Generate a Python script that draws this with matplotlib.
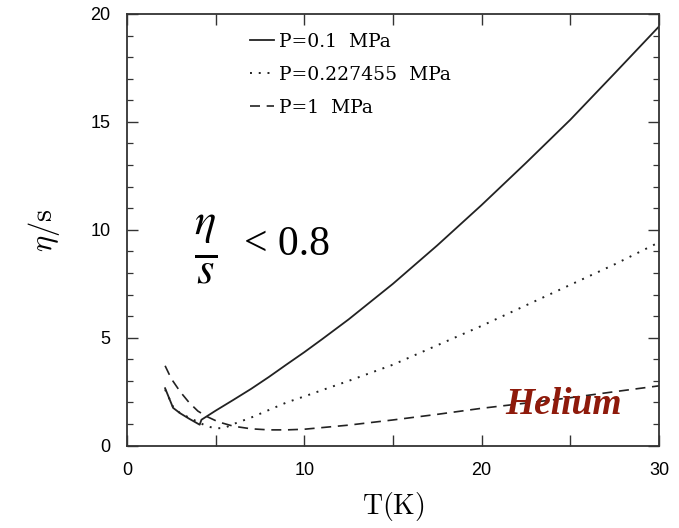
import matplotlib
matplotlib.use("Agg")
import matplotlib.pyplot as plt
from matplotlib.ticker import MultipleLocator, FuncFormatter

plt.rcParams['mathtext.fontset'] = 'cm'

# ---------------- data ----------------
T_01 = [2.15, 2.6, 3.0, 3.5, 4.1, 4.2, 5.0, 6.0, 7.0, 8.0, 9.0, 10.0, 11.0, 12.5,
        15.0, 17.5, 20.0, 22.5, 25.0, 27.5, 30.0]
eta_01 = [2.66, 1.75, 1.5, 1.25, 0.97, 1.2, 1.62, 2.12, 2.63, 3.18, 3.76, 4.33, 4.93, 5.85,
          7.5, 9.28, 11.15, 13.1, 15.1, 17.25, 19.42]

T_0227 = [2.15, 2.6, 3.0, 3.5, 4.0, 4.5, 5.0, 5.5, 6.0, 7.0, 8.0, 9.0, 10.0, 11.0, 12.5,
          15.0, 17.5, 20.0, 22.5, 25.0, 27.5, 30.0]
eta_0227 = [2.6, 1.8, 1.5, 1.3, 1.1, 0.9, 0.8, 0.82, 1.0, 1.3, 1.65, 2.0, 2.28, 2.57, 3.0,
            3.75, 4.65, 5.55, 6.5, 7.45, 8.4, 9.42]

T_1 = [2.15, 2.5, 3.0, 3.5, 4.0, 4.5, 5.15, 6.0, 7.0, 8.0, 9.0, 10.0, 12.5, 15.0,
       17.5, 20.0, 22.5, 25.0, 27.5, 30.0]
eta_1 = [3.7, 3.1, 2.5, 2.0, 1.6, 1.35, 1.1, 0.9, 0.78, 0.73, 0.73, 0.76, 0.95, 1.19,
         1.45, 1.73, 1.97, 2.22, 2.5, 2.77]

labels = ['P=0.1  MPa', 'P=0.227455  MPa', 'P=1  MPa']

# ---------------- figure ----------------
fig = plt.figure(figsize=(6.79, 5.28), dpi=100)
ax = fig.add_axes([0.187, 0.156, 0.7835, 0.8175])

ax.plot(T_01, eta_01, '-', color='#222222', lw=1.3, label=labels[0])
ax.plot(T_0227, eta_0227, color='#222222', lw=1.4, linestyle=(0, (1, 3.5)), label=labels[1])
ax.plot(T_1, eta_1, color='#222222', lw=1.2, linestyle=(0, (6, 4)), label=labels[2])

ax.set_xlim(0, 30)
ax.set_ylim(0, 20)

ax.xaxis.set_major_locator(MultipleLocator(5))
ax.xaxis.set_major_formatter(FuncFormatter(lambda v, p: '%d' % v if int(round(v)) % 10 == 0 else ''))
ax.yaxis.set_major_locator(MultipleLocator(5))
ax.yaxis.set_minor_locator(MultipleLocator(1))
ax.tick_params(which='both', direction='in', top=True, right=True, color='#333333')
ax.tick_params(which='major', length=8, width=1.0, labelsize=13, pad=12)
ax.tick_params(which='minor', length=4.5, width=0.9)
for lab in ax.get_xticklabels() + ax.get_yticklabels():
    lab.set_family('Liberation Sans')
for s in ax.spines.values():
    s.set_linewidth(1.3)
    s.set_color('#333333')

ax.set_xlabel(r'$\mathrm{T(K)}$', fontsize=20, labelpad=8)
ax.set_ylabel(r'$\eta/\mathrm{s}$', fontsize=22, labelpad=20)

leg = ax.legend(loc='upper left', bbox_to_anchor=(0.2, 0.995), frameon=False,
                handlelength=1.25, handletextpad=0.3, labelspacing=0.8,
                prop={'family': 'DejaVu Serif', 'size': 13.5})

# eta/s < 0.8 annotation
ax.text(3.8, 9.1, r'$\frac{\eta}{s}$', fontsize=46, math_fontfamily='stix',
        ha='left', va='center')
ax.text(6.6, 9.3, '< 0.8', fontsize=30, family='Liberation Serif',
        ha='left', va='center')
ax.text(24.6, 1.9, 'Helium', fontsize=27, color='#8e1a0b', fontstyle='italic',
        family='Liberation Serif', fontweight='bold', ha='center', va='center')

fig.savefig('out.png', dpi=100)
